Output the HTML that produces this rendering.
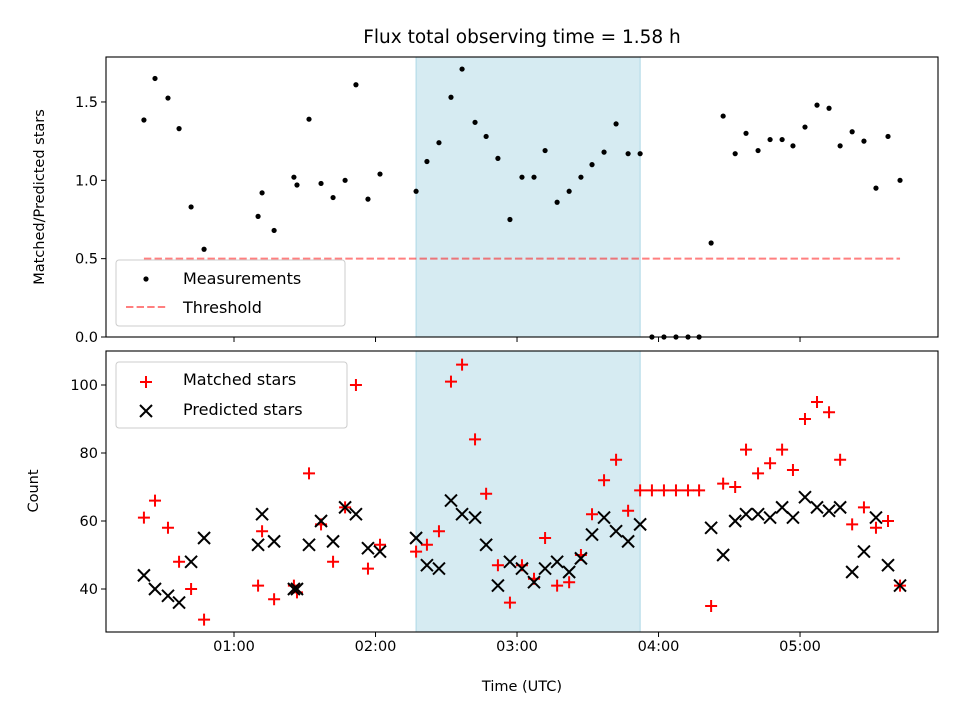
<!DOCTYPE html>
<html><head><meta charset="utf-8"><style>
body{margin:0;background:#fff}
svg{display:block;font-family:"DejaVu Sans","Liberation Sans",sans-serif}
</style></head><body>
<svg id="chart" width="960" height="720" xmlns="http://www.w3.org/2000/svg"></svg>
<script>
const times=[21.8,26.5,32.0,36.7,41.8,47.3,70.2,71.9,77.0,85.4,86.7,91.8,96.9,102.0,107.1,111.7,116.8,121.9,137.2,141.8,146.9,152.0,156.7,162.2,166.9,171.9,177.0,182.1,187.2,191.9,197.0,202.1,207.1,211.8,216.9,222.0,227.1,232.2,237.2,242.3,247.4,252.5,257.2,262.3,267.4,272.5,277.1,282.2,287.3,292.4,297.0,302.1,307.2,312.3,317.0,322.1,327.1,332.2,337.3,342.4];
const ratio=[1.385,1.65,1.525,1.33,0.83,0.56,0.77,0.92,0.68,1.02,0.97,1.39,0.98,0.89,1.00,1.61,0.88,1.04,0.93,1.12,1.24,1.53,1.71,1.37,1.28,1.14,0.75,1.02,1.02,1.19,0.86,0.93,1.02,1.10,1.18,1.36,1.17,1.17,0,0,0,0,0,0.60,1.41,1.17,1.30,1.19,1.26,1.26,1.22,1.34,1.48,1.46,1.22,1.31,1.25,0.95,1.28,1.00];
const matched=[61,66,58,48,40,31,41,57,37,41,39,74,59,48,64,100,46,53,51,53,57,101,106,84,68,47,36,47,43,55,41,42,50,62,72,78,63,69,69,69,69,69,69,35,71,70,81,74,77,81,75,90,95,92,78,59,64,58,60,41];
const predicted=[44,40,38,36,48,55,53,62,54,40,40,53,60,54,64,62,52,51,55,47,46,66,62,61,53,41,48,46,42,46,48,45,49,56,61,57,54,59,null,null,null,null,null,58,50,60,62,62,61,64,61,67,64,63,64,45,51,61,47,41];
const threshold=0.5;
const span=[137.2,232.2];
const xTicks=[60,120,180,240,300];
const xTickLabels=["01:00","02:00","03:00","04:00","05:00"];
const topTicks=[0,0.5,1.0,1.5];
const topTickLabels=["0.0","0.5","1.0","1.5"];
const botTicks=[40,60,80,100];
const botTickLabels=["40","60","80","100"];

const S=document.getElementById('chart');const NS="http://www.w3.org/2000/svg";
function mk(tag,attrs,name,parent){const e=document.createElementNS(NS,tag);for(const k in attrs)e.setAttribute(k,attrs[k]);


(parent||S).appendChild(e);return e;}
const L=106,R=938;
const xs=t=>L+(t-5.72)/(358.5-5.72)*(R-L);
const T0=57,T1=337,B0=351,B1=632;
const yt=v=>T1-v/1.787*(T1-T0);
const yb=v=>B1-(v-27.35)/(110-27.35)*(B1-B0);

function txt(x,y,s,name,opts){const e=mk('text',Object.assign({x:x,y:y,'font-size':14.5,fill:'#000'},opts||{}),name);e.textContent=s;return e;}

txt(522,43,"Flux total observing time = 1.58 h","chart-title",{'font-size':18.5,'text-anchor':'middle'});

mk('rect',{x:xs(span[0]),y:T0,width:xs(span[1])-xs(span[0]),height:T1-T0,fill:'#add8e6','fill-opacity':0.5,stroke:'#add8e6'},'highlight-span-top');
mk('rect',{x:xs(span[0]),y:B0,width:xs(span[1])-xs(span[0]),height:B1-B0,fill:'#add8e6','fill-opacity':0.5,stroke:'#add8e6'},'highlight-span-bottom');

mk('line',{x1:xs(times[0]),x2:xs(times[times.length-1]),y1:yt(threshold),y2:yt(threshold),stroke:'#ff0000','stroke-opacity':0.5,'stroke-width':2,'stroke-dasharray':'7.4,3.2'},'threshold-line');

const gT=mk('g',{},'measurements-series');
times.forEach((t,i)=>{mk('circle',{cx:xs(t),cy:yt(ratio[i]),r:2.6,fill:'#000'},'measurement-point',gT);});

const gM=mk('g',{stroke:'#ff0000','stroke-width':2},'matched-series');
times.forEach((t,i)=>{const x=xs(t),y=yb(matched[i]);mk('path',{d:`M${x-6} ${y}H${x+6}M${x} ${y-6}V${y+6}`},'matched-point',gM);});
const gP=mk('g',{stroke:'#000','stroke-width':2},'predicted-series');
times.forEach((t,i)=>{if(predicted[i]==null)return;const x=xs(t),y=yb(predicted[i]);mk('path',{d:`M${x-6} ${y-6}L${x+6} ${y+6}M${x-6} ${y+6}L${x+6} ${y-6}`},'predicted-point',gP);});

mk('rect',{x:L,y:T0,width:R-L,height:T1-T0,fill:'none',stroke:'#000','stroke-width':1.1},'top-axes-frame');
mk('rect',{x:L,y:B0,width:R-L,height:B1-B0,fill:'none',stroke:'#000','stroke-width':1.1},'bottom-axes-frame');

xTicks.forEach((t,i)=>{const x=xs(t);
mk('line',{x1:x,x2:x,y1:T1,y2:T1+5,stroke:'#000'},'top-x-tick');
mk('line',{x1:x,x2:x,y1:B1,y2:B1+5,stroke:'#000'},'x-tick');
txt(x,651,xTickLabels[i],'x-tick-label',{'text-anchor':'middle'});});
topTicks.forEach((v,i)=>{const y=yt(v);mk('line',{x1:L-5,x2:L,y1:y,y2:y,stroke:'#000'},'top-y-tick');
txt(L-8,y+5,topTickLabels[i],'top-y-tick-label',{'text-anchor':'end'});});
botTicks.forEach((v,i)=>{const y=yb(v);mk('line',{x1:L-5,x2:L,y1:y,y2:y,stroke:'#000'},'bottom-y-tick');
txt(L-8,y+5,botTickLabels[i],'bottom-y-tick-label',{'text-anchor':'end'});});

txt(522,691,"Time (UTC)","x-axis-title",{'text-anchor':'middle'});
txt(0,0,"Matched/Predicted stars","top-y-axis-title",{'text-anchor':'middle',transform:'translate(44,197) rotate(-90)'});
txt(0,0,"Count","bottom-y-axis-title",{'text-anchor':'middle',transform:'translate(38,491) rotate(-90)'});

mk('rect',{x:116,y:260,width:229,height:66,rx:3,fill:'#fff','fill-opacity':0.8,stroke:'#ccc'},'top-legend-box');
mk('circle',{cx:146,cy:279,r:2.6,fill:'#000'},'legend-measurements-marker');
txt(183,284,"Measurements","legend-measurements-label",{'font-size':16});
mk('line',{x1:126,x2:166,y1:307,y2:307,stroke:'#ff0000','stroke-opacity':0.5,'stroke-width':2,'stroke-dasharray':'7.4,3.2'},'legend-threshold-marker');
txt(183,313,"Threshold","legend-threshold-label",{'font-size':16});

mk('rect',{x:116,y:362,width:231,height:66,rx:3,fill:'#fff','fill-opacity':0.8,stroke:'#ccc'},'bottom-legend-box');
mk('path',{d:'M140 382H152M146 376V388',stroke:'#ff0000','stroke-width':2},'legend-matched-marker');
txt(183,385,"Matched stars","legend-matched-label",{'font-size':16});
mk('path',{d:'M140 405L152 417M140 417L152 405',stroke:'#000','stroke-width':2},'legend-predicted-marker');
txt(183,415,"Predicted stars","legend-predicted-label",{'font-size':16});
</script>
</body></html>
